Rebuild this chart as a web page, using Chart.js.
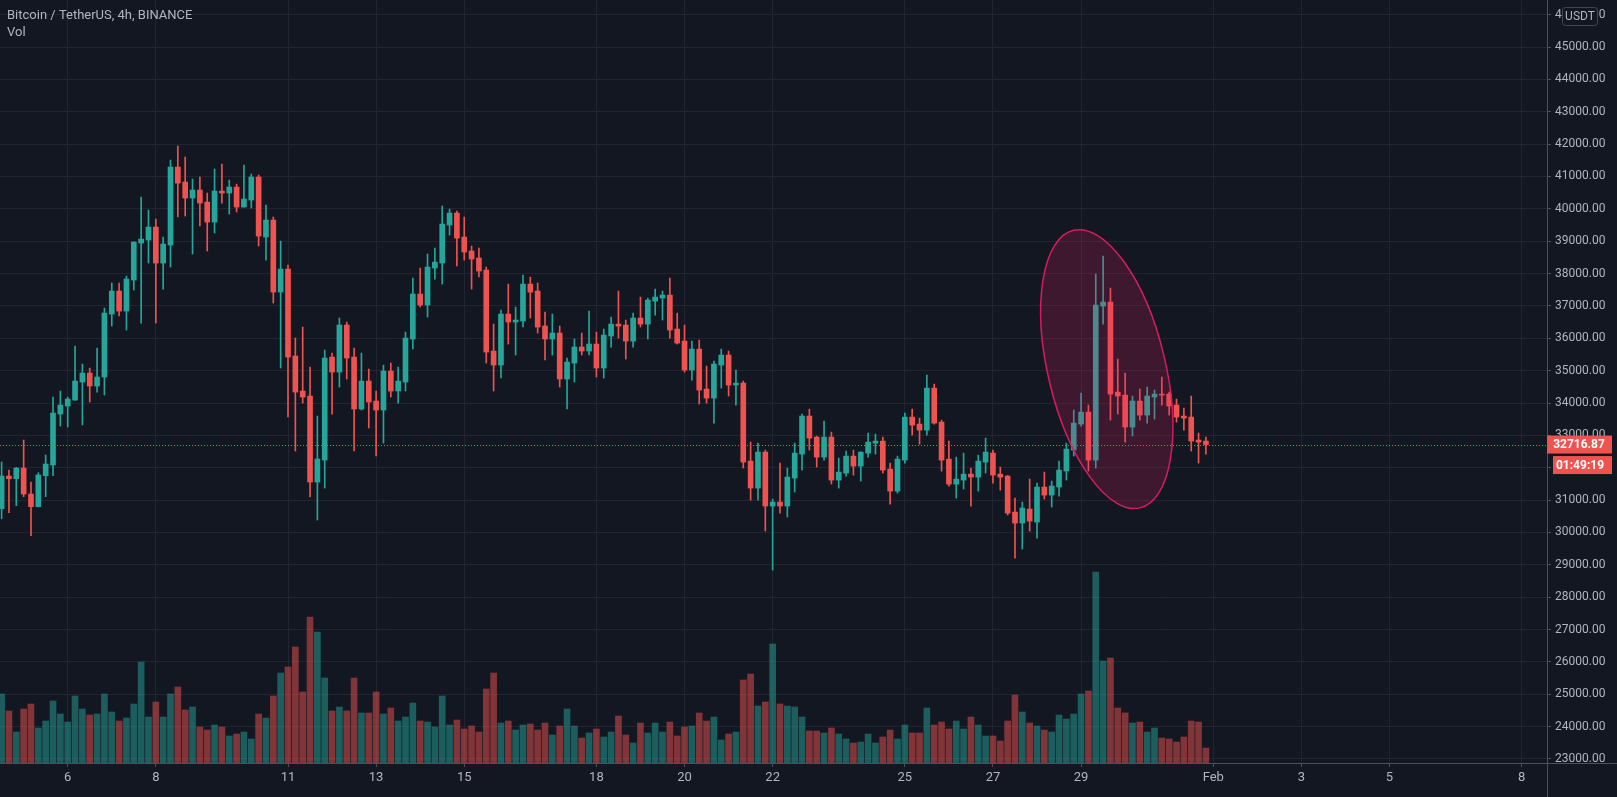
<!DOCTYPE html>
<html lang="en">
<head>
    <meta charset="UTF-8">
    <title>Bitcoin / TetherUS, 4h, BINANCE</title>
    <script src="https://cdn.jsdelivr.net/npm/chart.js"></script>
    <style>
        html, body {
            margin: 0;
            padding: 0;
            background-color: #131722;
        }

        .chart-wrap {
            position: relative;
            width: 1617px;
            height: 797px;
        }
    </style>
</head>
<body>
    <div class="chart-wrap">
        <canvas id="btcChart"></canvas>
    </div>

    <script>
        // 4h candles, x = number of 4h bars since 6 Jan 00:00 (first bar is 4 Jan 12:00)
        const firstBar = -9;

        const opens = [
            30734, 31744, 31661, 31991, 31187, 30796, 31754, 32084, 33659,
            33907, 34092, 34648, 34926, 34525, 34803, 36749, 37460, 36842, 37800, 38943, 39036,
            39438, 38325, 38881, 41292, 40828, 40334, 40581, 40210, 39592, 40550, 40488, 40674,
            40056, 40272, 40983, 39129, 39654, 37429, 38140, 35452, 34370, 34216, 31558, 32238,
            35421, 34957, 36410, 35421, 33814, 34679, 34061, 33783, 34988, 34370, 34648, 35977,
            37367, 37028, 38171, 38325, 39500, 39870, 39129, 38696, 38480, 38109, 35606, 35174,
            36749, 36502, 36533, 37676, 37460, 36379, 35977, 36162, 34741, 35235, 35730, 35606,
            35822, 35081, 36069, 36439, 36409, 35914, 36625, 36439, 37150, 37243, 37336, 36285,
            35914, 35018, 35667, 34431, 34153, 35173, 35482, 34555, 34616, 32206, 31372, 32484,
            30816, 30939, 30816, 31681, 32422, 33596, 32947, 32329, 32947, 31618, 31834, 32360,
            32051, 32452, 32761, 32823, 31958, 31278, 32236, 33565, 33348, 33163, 34461, 33410,
            32267, 31494, 31618, 31803, 31711, 32174, 32452, 31803, 31742, 30630, 30290, 30723,
            30321, 31403, 31155, 31403, 31897, 32546, 33349, 33720, 32237, 36996, 37119, 34338,
            34245, 33257, 34060, 33627, 34184, 34276, 34276, 33937, 33597, 33566, 32855, 32824
        ];
        const highs = [
            32176, 31929, 32011, 32856, 31558, 31847, 32392, 34185, 34370,
            34185, 35761, 35204, 35081, 35699, 36935, 37707, 37707, 37924, 38980, 40365, 39963,
            39685, 39129, 41508, 41941, 41601, 40921, 40983, 40488, 41230, 41384, 40890, 40766,
            41353, 41075, 41045, 40117, 39747, 39005, 38264, 36008, 36348, 35112, 33598, 35637,
            35544, 36626, 36502, 35699, 35544, 35050, 34370, 35174, 35235, 35112, 36193, 37862,
            38171, 38603, 38789, 40087, 39994, 39932, 39747, 38851, 38789, 38202, 36440, 36873,
            37676, 36966, 37955, 37893, 37707, 36811, 36749, 36379, 35390, 35977, 36162, 36842,
            36193, 36286, 36656, 37459, 36563, 36779, 37274, 37243, 37521, 37459, 37861, 36779,
            36409, 35914, 35945, 35142, 35296, 35667, 35605, 35018, 34678, 32793, 32762, 32546,
            31032, 32144, 31990, 32762, 33659, 33812, 32978, 33441, 33101, 32298, 32514, 32545,
            32490, 33070, 33039, 32947, 32143, 32360, 33688, 33812, 33534, 34863, 34584, 33472,
            32823, 32329, 32452, 31989, 32390, 32916, 32545, 32020, 31760, 31063, 30939, 31650,
            31526, 31866, 31588, 32206, 32762, 33782, 34307, 33937, 37984, 38541, 37552, 35358,
            34925, 34215, 34431, 34493, 34400, 34802, 34338, 34122, 33844, 34215, 33071, 32948
        ];
        const lows = [
            30425, 30611, 30827, 31105, 29900, 30790, 31105, 31754, 33289,
            33258, 34080, 33320, 34030, 34339, 34247, 36379, 36688, 36255, 37491, 36471, 38325,
            36471, 37522, 38202, 39747, 39778, 38603, 39469, 38696, 39252, 40179, 39839, 39901,
            40050, 40025, 38851, 38418, 37089, 35081, 33567, 32516, 33999, 31095, 30384, 31373,
            33659, 34494, 34741, 32516, 33783, 33227, 32362, 32763, 34185, 33999, 34370, 35668,
            36966, 36657, 37831, 37676, 39190, 38233, 38418, 37522, 37893, 35235, 34370, 34772,
            35822, 35483, 36348, 36626, 36162, 35328, 35483, 34494, 33814, 34648, 35483, 35483,
            34803, 34772, 35729, 36007, 35358, 35729, 36347, 35976, 36717, 36563, 36007, 35821,
            34956, 34709, 33967, 33998, 33380, 34462, 34215, 33937, 31990, 31001, 31001, 30043,
            28838, 30599, 30476, 31248, 31928, 32545, 32020, 32236, 31494, 31371, 31742, 31772,
            31587, 32329, 32421, 31834, 30876, 31216, 32143, 33008, 32730, 33008, 33348, 31896,
            31433, 31062, 31340, 30815, 31278, 31834, 31525, 31309, 30537, 29209, 29487, 30043,
            29827, 31032, 30785, 31125, 31619, 32361, 33288, 31897, 31990, 36439, 33473, 33658,
            32793, 32979, 33473, 33380, 33504, 33937, 33627, 33411, 33164, 32515, 32144, 32422
        ];
        const closes = [
            31744, 31661, 31991, 31187, 30796, 31774, 32114, 33690, 33937,
            34123, 34679, 34926, 34525, 34803, 36780, 37460, 36842, 37831, 38974, 39067, 39438,
            38325, 38912, 41292, 40797, 40334, 40581, 40179, 39592, 40550, 40488, 40674, 40056,
            40303, 40983, 39160, 39654, 37429, 38140, 35421, 34339, 34185, 31558, 32269, 35390,
            34957, 36410, 35390, 33814, 34679, 34030, 33783, 34988, 34370, 34679, 36008, 37367,
            37028, 38202, 38356, 39530, 39870, 39098, 38665, 38449, 38078, 35575, 35174, 36749,
            36502, 36564, 37676, 37429, 36348, 35977, 36162, 34741, 35266, 35730, 35606, 35822,
            35081, 36101, 36439, 36378, 35914, 36625, 36439, 37181, 37274, 37336, 36254, 35852,
            35018, 35667, 34400, 34153, 35204, 35482, 34555, 34616, 32175, 31372, 32484, 30816,
            30939, 30816, 31712, 32453, 33597, 32916, 32329, 32947, 31618, 31865, 32360, 32051,
            32483, 32792, 32823, 31927, 31278, 32267, 33565, 33318, 33163, 34461, 33379, 32236,
            31494, 31649, 31803, 31711, 32205, 32483, 31772, 31711, 30598, 30290, 30754, 30352,
            31403, 31155, 31434, 31928, 32577, 33380, 33720, 32237, 37027, 37119, 34276, 34215,
            33257, 34060, 33627, 34215, 34276, 34245, 33906, 33566, 33535, 32824, 32793, 32716.87
        ];
        // volume in BTC
        const volumes = [
            20700, 15600, 9300, 16200, 17700, 10500, 12600, 18600, 14700,
            12300, 20100, 16200, 14400, 14700, 20700, 15300, 12600, 13500, 17700, 30300, 13800,
            18300, 13800, 20700, 22800, 15900, 16800, 10800, 9900, 11400, 10800, 8100, 8700,
            9300, 7200, 14700, 13500, 20100, 27000, 28800, 34800, 21300, 43800, 39300, 25500,
            15600, 16800, 15600, 25500, 15000, 15000, 21300, 14700, 16500, 12600, 13800, 18000,
            12600, 12300, 10800, 20100, 11400, 12900, 10200, 11100, 9300, 22200, 27000, 12000,
            12600, 9900, 11400, 11700, 9900, 12000, 8400, 11100, 16200, 11100, 7500, 9000,
            10200, 7800, 9300, 14100, 8400, 6000, 12000, 9000, 12000, 9300, 12300, 8100,
            10800, 11100, 15000, 12600, 13800, 6900, 8700, 9300, 24900, 26700, 17100, 18300,
            35700, 17700, 17100, 16800, 13800, 9600, 9600, 9000, 10500, 8700, 7200, 6000,
            6300, 8700, 6000, 7800, 9900, 7200, 11400, 9000, 9000, 16500, 11400, 12300,
            10200, 12600, 10200, 13800, 11400, 8100, 8100, 6600, 12600, 20400, 15300, 12000,
            11100, 9900, 9300, 14400, 13200, 14700, 20700, 21600, 57300, 30600, 31500, 16500,
            15000, 12000, 12300, 9300, 10500, 7500, 7200, 6300, 7800, 12600, 12300, 4500
        ];

        // date axis: positions in 4h bars from 6 Jan 00:00
        const dayTicks = [0, 12, 30, 42, 54, 72, 84, 96, 114, 126, 138, 156, 168, 180, 198];
        const dayLabels = ['6', '8', '11', '13', '15', '18', '20', '22', '25', '27', '29', 'Feb', '3', '5', '8'];

        // price axis ticks
        const priceTicks = [
            23000, 24000, 25000, 26000, 27000, 28000, 29000, 30000, 31000, 32000, 33000, 34000,
            35000, 36000, 37000, 38000, 39000, 40000, 41000, 42000, 43000, 44000, 45000, 46000
        ];

        const lastPrice = closes[closes.length - 1];
        const countdown = '01:49:19';

        const upColor = '#26a69a';
        const downColor = '#ef5350';
        const volUp = 'rgba(38, 166, 154, 0.5)';
        const volDown = 'rgba(239, 83, 80, 0.5)';
        const gridColor = '#222531';
        const axisColor = '#4c505b';
        const textColor = '#b2b5be';
        const fontFamily = "Roboto, 'Noto Sans', sans-serif";

        const xs = opens.map((_, i) => i + firstBar);
        const isUp = closes.map((c, i) => c >= opens[i]);
        const candleColors = isUp.map(u => u ? upColor : downColor);

        // TradingView style overlays: ellipse drawing, price line, labels
        const overlay = {
            id: 'overlay',
            afterDatasetsDraw(chart) {
                const { ctx, chartArea } = chart;
                const x = chart.scales.x;
                const y = chart.scales.y;

                // highlighted area around the 29 Jan spike
                ctx.save();
                ctx.beginPath();
                ctx.ellipse(x.getPixelForValue(141.5), y.getPixelForValue(35048), 58.7, 142.7, -0.235, 0, Math.PI * 2);
                ctx.fillStyle = 'rgba(233, 30, 99, 0.2)';
                ctx.fill();
                ctx.lineWidth = 1.5;
                ctx.strokeStyle = '#d81b60';
                ctx.stroke();
                ctx.restore();

                // last price dotted line
                const py = Math.round(y.getPixelForValue(lastPrice)) + 0.5;
                ctx.save();
                ctx.strokeStyle = downColor;
                ctx.lineWidth = 1;
                ctx.setLineDash([1, 2]);
                ctx.beginPath();
                ctx.moveTo(chartArea.left, py);
                ctx.lineTo(chartArea.right, py);
                ctx.stroke();
                ctx.restore();
            },
            afterDraw(chart) {
                const { ctx, chartArea, width, height } = chart;
                const y = chart.scales.y;

                ctx.save();
                // axis lines
                ctx.strokeStyle = axisColor;
                ctx.lineWidth = 1;
                ctx.beginPath();
                ctx.moveTo(chartArea.right + 0.5, 0);
                ctx.lineTo(chartArea.right + 0.5, height);
                ctx.moveTo(0, chartArea.bottom + 0.5);
                ctx.lineTo(width, chartArea.bottom + 0.5);
                ctx.stroke();

                // last price + countdown labels
                const py = y.getPixelForValue(lastPrice);
                ctx.fillStyle = downColor;
                ctx.fillRect(chartArea.right, py - 9, 65, 18);
                ctx.fillRect(chartArea.right + 6, py + 11.5, 59, 18);
                ctx.fillStyle = '#ffffff';
                ctx.font = 'bold 12px ' + fontFamily;
                ctx.textAlign = 'center';
                ctx.textBaseline = 'middle';
                ctx.fillText(lastPrice.toFixed(2), chartArea.right + 32, py + 0.5);
                ctx.fillText(countdown, chartArea.right + 33, py + 21);

                // currency badge
                ctx.fillStyle = '#131722';
                ctx.strokeStyle = '#434651';
                ctx.beginPath();
                ctx.roundRect(chartArea.right + 15.5, 7.5, 35, 18, 3);
                ctx.fill();
                ctx.stroke();
                ctx.fillStyle = textColor;
                ctx.font = '12px ' + fontFamily;
                ctx.fillText('USDT', chartArea.right + 33, 17);

                // symbol title
                ctx.textAlign = 'left';
                ctx.font = '13px ' + fontFamily;
                ctx.fillText('Bitcoin / TetherUS, 4h, BINANCE', 7, 16);
                ctx.fillText('Vol', 7, 33);
                ctx.restore();
            }
        };

        const ctx = document.getElementById('btcChart').getContext('2d');
        const btcChart = new Chart(ctx, {
            type: 'bar',
            data: {
                datasets: [
                    {
                        label: 'Vol',
                        data: xs.map((x, i) => ({ x: x, y: volumes[i] })),
                        yAxisID: 'yv',
                        backgroundColor: isUp.map(u => u ? volUp : volDown),
                        barThickness: 6,
                        grouped: false,
                        order: 3
                    },
                    {
                        label: 'Wick',
                        data: xs.map((x, i) => ({ x: x, y: [lows[i], highs[i]] })),
                        yAxisID: 'y',
                        backgroundColor: candleColors,
                        barThickness: 1,
                        grouped: false,
                        order: 2
                    },
                    {
                        label: 'Body',
                        data: xs.map((x, i) => ({ x: x, y: [opens[i], closes[i]] })),
                        yAxisID: 'y',
                        backgroundColor: candleColors,
                        barThickness: 5,
                        minBarLength: 1,
                        grouped: false,
                        order: 1
                    }
                ]
            },
            options: {
                responsive: true,
                maintainAspectRatio: false,
                animation: false,
                layout: { padding: 0 },
                plugins: {
                    legend: { display: false },
                    tooltip: { enabled: false }
                },
                scales: {
                    x: {
                        type: 'linear',
                        min: -9.22,
                        max: 201.45,
                        offset: false,
                        grid: {
                            offset: false,
                            color: gridColor,
                            tickColor: axisColor,
                            tickLength: 4
                        },
                        border: { display: false },
                        afterBuildTicks(scale) {
                            scale.ticks = dayTicks.map(v => ({ value: v }));
                        },
                        afterFit(scale) {
                            scale.height = 34;
                            scale.paddingLeft = 0;
                            scale.paddingRight = 0;
                        },
                        ticks: {
                            autoSkip: false,
                            maxRotation: 0,
                            padding: 3,
                            color: textColor,
                            font: { family: fontFamily, size: 13 },
                            callback: (v) => dayLabels[dayTicks.indexOf(v)]
                        }
                    },
                    y: {
                        position: 'right',
                        min: 22876,
                        max: 46454,
                        grid: {
                            color: gridColor,
                            tickColor: axisColor,
                            tickLength: 4
                        },
                        border: { display: false },
                        afterBuildTicks(scale) {
                            scale.ticks = priceTicks.map(v => ({ value: v }));
                        },
                        afterFit(scale) {
                            scale.width = 70;
                            scale.paddingTop = 0;
                            scale.paddingBottom = 0;
                        },
                        ticks: {
                            autoSkip: false,
                            padding: 4,
                            color: textColor,
                            font: { family: fontFamily, size: 12 },
                            callback: (v) => v.toFixed(2)
                        }
                    },
                    yv: {
                        display: false,
                        min: 0,
                        max: 228900
                    }
                }
            },
            plugins: [overlay]
        });
    </script>
</body>
</html>
